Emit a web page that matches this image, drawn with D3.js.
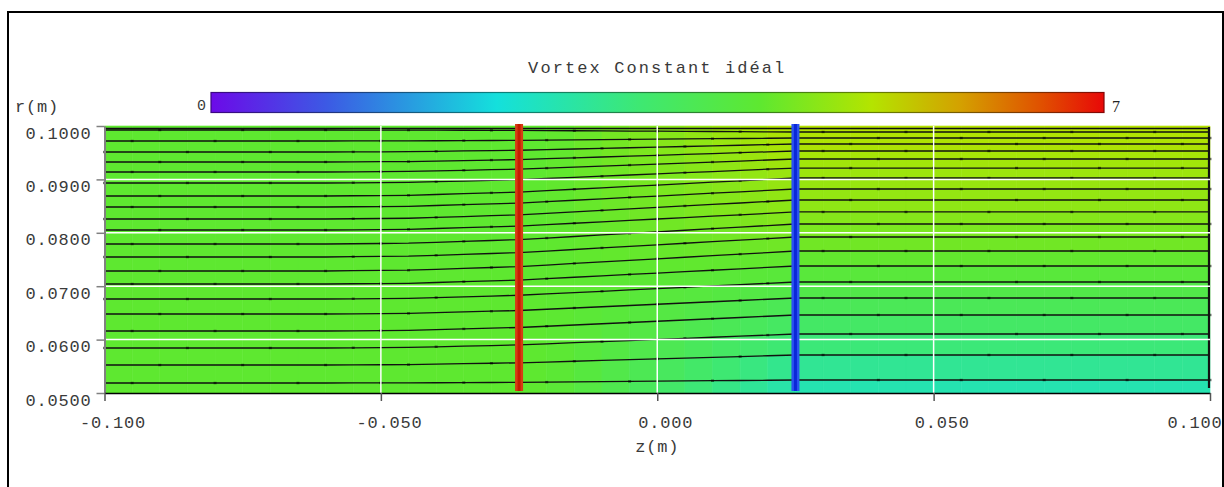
<!DOCTYPE html>
<html>
<head>
<meta charset="utf-8">
<script src="https://cdn.jsdelivr.net/npm/d3@7"></script>
<style>
  body { margin: 0; background: #fff; }
  svg { display: block; }
  .mono { font-family: "Liberation Mono", "Courier New", monospace; fill: #3a3a3a; }
</style>
</head>
<body>
<svg></svg>
<script>
// Axis ticks and labels
const zTicks = [-0.1, -0.05, 0, 0.05, 0.1];
const zTickLabels = ["-0.100", "-0.050", "0.000", "0.050", "0.100"];
const rTicks = [0.05, 0.06, 0.07, 0.08, 0.09, 0.1];
const rTickLabels = ["0.0500", "0.0600", "0.0700", "0.0800", "0.0900", "0.1000"];

// Streamline radii, hub to tip, upstream (z=-0.1) and downstream (z=0.1)
const rUpstream = [0.05187, 0.05524, 0.05843, 0.06161, 0.06479, 0.06760, 0.07041, 0.07285, 0.07547, 0.07790,
                   0.08052, 0.08258, 0.08483, 0.08689, 0.08933, 0.09139, 0.09326, 0.09513, 0.09719, 0.09925];
const rDownstream = [0.05243, 0.05712, 0.06105, 0.06461, 0.06779, 0.07079, 0.07378, 0.07659, 0.07921, 0.08165,
                     0.08390, 0.08614, 0.08820, 0.09026, 0.09213, 0.09382, 0.09532, 0.09663, 0.09775, 0.09888];

// How far the streamlines have moved from upstream to downstream position along z
const shiftZ = [-0.1, -0.06, -0.045, -0.025, 0, 0.025, 0.1];
const shiftFrac = [0, 0, 0.04, 0.22, 0.61, 1, 1];

// Field value: uniform upstream, per streamtube downstream (hub to tip, 21 tubes)
const valueUpstream = 4.3;
const valueDownstream = [2.7, 3.0, 3.3, 3.55, 3.75, 3.95, 4.15, 4.35, 4.5, 4.6, 4.7,
                         4.8, 4.85, 4.9, 4.95, 5.0, 5.05, 5.1, 5.12, 5.15, 5.2];
const valueZ = [-0.1, -0.02, 0.025, 0.1];
const valueFrac = [0, 0, 1, 1];

// Actuator discs (rotor, stator)
const discZ = [-0.025, 0.025];
const discColors = [["#d63c14", "#c41c00"], ["#2a52f0", "#0a28d8"]];

// Colour bar
const cbarMin = 0, cbarMax = 7;
const cbarStops = [0, 0.13, 0.32, 0.48, 0.615, 0.74, 0.84, 0.93, 1];
const cbarColors = ["#6c0ae8", "#3c5ae4", "#14e0dc", "#3ee872", "#5ee830", "#b4e400", "#d4a000", "#e05000", "#e80808"];

const title = "Vortex Constant idéal";

const width = 1224, height = 487;
const svg = d3.select("svg").attr("width", width).attr("height", height);

// outer frame
svg.append("rect")
    .attr("x", 8).attr("y", 12).attr("width", 1215).attr("height", 500)
    .attr("fill", "none").attr("stroke", "#000").attr("stroke-width", 2);

const xScale = d3.scaleLinear().domain([-0.1, 0.1]).range([104.5, 1210]);
const yScale = d3.scaleLinear().domain([0.05, 0.1]).range([393, 126]);
const shiftScale = d3.scaleLinear().domain(shiftZ).range(shiftFrac).clamp(true);
const valueScale = d3.scaleLinear().domain(valueZ).range(valueFrac).clamp(true);
const colorScale = d3.scaleLinear()
    .domain(cbarStops.map(s => cbarMin + s * (cbarMax - cbarMin)))
    .range(cbarColors)
    .clamp(true);

// radius of streamline k (0 = hub, 21 = tip, 1..20 = lines) at z
function lineR(k, z) {
    if (k === 0) return 0.05;
    if (k === rUpstream.length + 1) return 0.1;
    const f = shiftScale(z);
    return rUpstream[k - 1] + f * (rDownstream[k - 1] - rUpstream[k - 1]);
}

// mesh columns
const meshZ = d3.range(-0.1, 0.1 + 1e-9, 0.005);

const field = svg.append("g");
for (let j = 0; j < meshZ.length - 1; j++) {
    const z0 = meshZ[j], z1 = meshZ[j + 1];
    const vf = valueScale((z0 + z1) / 2);
    for (let i = 0; i <= rUpstream.length; i++) {
        const v = valueUpstream + vf * (valueDownstream[i] - valueUpstream);
        const pts = [
            [xScale(z0), yScale(lineR(i, z0))],
            [xScale(z1), yScale(lineR(i, z1))],
            [xScale(z1), yScale(lineR(i + 1, z1))],
            [xScale(z0), yScale(lineR(i + 1, z0))]
        ];
        field.append("polygon")
            .attr("points", pts.map(p => p.join(",")).join(" "))
            .attr("fill", colorScale(v))
            .attr("stroke", colorScale(v))
            .attr("stroke-width", 0.6);
    }
}

// streamlines
const lineGen = d3.line().x(d => xScale(d[0])).y(d => yScale(d[1]));
const streams = svg.append("g");
for (let k = 1; k <= rUpstream.length; k++) {
    const pts = meshZ.map(z => [z, lineR(k, z)]);
    streams.append("path")
        .attr("d", lineGen(pts))
        .attr("fill", "none")
        .attr("stroke", "#111")
        .attr("stroke-width", 1.3);
    streams.selectAll(null)
        .data(pts.filter((d, i) => i % 3 === (k % 3)))
        .join("rect")
        .attr("x", d => xScale(d[0]) - 1.5)
        .attr("y", d => yScale(d[1]) - 1.2)
        .attr("width", 3).attr("height", 2.4)
        .attr("fill", "#000").attr("opacity", 0.55);
}
// tip boundary line and outlet line
streams.append("line")
    .attr("x1", xScale(-0.1)).attr("x2", xScale(0.1))
    .attr("y1", yScale(0.1) + 2.5).attr("y2", yScale(0.1) + 2.5)
    .attr("stroke", "#111").attr("stroke-width", 1.6);
streams.append("line")
    .attr("x1", xScale(0.1) - 1).attr("x2", xScale(0.1) - 1)
    .attr("y1", yScale(0.1) + 1).attr("y2", 388)
    .attr("stroke", "#111").attr("stroke-width", 2.2);

// white grid
const grid = svg.append("g").attr("stroke", "#fff").attr("stroke-width", 1.5);
grid.selectAll(".gz").data(zTicks.slice(1, -1)).join("line")
    .attr("x1", d => xScale(d)).attr("x2", d => xScale(d))
    .attr("y1", yScale(0.1)).attr("y2", yScale(0.05));
grid.selectAll(".gr").data(rTicks.slice(1, -1)).join("line")
    .attr("x1", xScale(-0.1)).attr("x2", xScale(0.1))
    .attr("y1", d => yScale(d)).attr("y2", d => yScale(d));

// actuator discs
discZ.forEach((z, i) => {
    svg.append("rect")
        .attr("x", xScale(z) - 4).attr("y", 124)
        .attr("width", 8).attr("height", 267)
        .attr("fill", discColors[i][0]);
    svg.append("rect")
        .attr("x", xScale(z) - 1.5).attr("y", 124)
        .attr("width", 3).attr("height", 267)
        .attr("fill", discColors[i][1]);
});

// axes
const yAxis = svg.append("g")
    .attr("transform", `translate(${xScale(-0.1)},0)`)
    .call(d3.axisLeft(yScale).tickValues(rTicks).tickFormat((d, i) => rTickLabels[i]).tickSize(8).tickSizeOuter(0));
yAxis.select(".domain").attr("stroke", "#808080").attr("stroke-width", 2);
yAxis.selectAll(".tick line").attr("stroke", "#808080").attr("stroke-width", 1.5);
yAxis.selectAll(".tick text")
    .attr("class", "mono")
    .attr("x", -13).attr("dy", null).attr("y", 12)
    .style("font-size", "17px").style("letter-spacing", "0.8px");

const xAxis = svg.append("g")
    .attr("transform", `translate(0,${yScale(0.05)})`)
    .call(d3.axisBottom(xScale).tickValues(zTicks).tickFormat((d, i) => zTickLabels[i]).tickSize(8).tickSizeOuter(0));
xAxis.select(".domain").attr("stroke", "#000").attr("stroke-width", 1.5);
xAxis.selectAll(".tick line").attr("stroke", "#555").attr("stroke-width", 1.5);
xAxis.selectAll(".tick text")
    .attr("class", "mono")
    .attr("dy", null).attr("y", 35)
    .attr("x", (d, i) => i === zTicks.length - 1 ? 12 : 8)
    .attr("text-anchor", (d, i) => i === zTicks.length - 1 ? "end" : "middle")
    .style("font-size", "17px").style("letter-spacing", "0.8px");

svg.append("text").attr("class", "mono")
    .attr("x", 15).attr("y", 112)
    .style("font-size", "17px").style("letter-spacing", "0.8px")
    .text("r(m)");
svg.append("text").attr("class", "mono")
    .attr("x", xScale(0)).attr("y", 452).attr("text-anchor", "middle")
    .style("font-size", "17px").style("letter-spacing", "0.8px")
    .text("z(m)");

// title
svg.append("text").attr("class", "mono")
    .attr("x", xScale(0)).attr("y", 73).attr("text-anchor", "middle")
    .style("font-size", "17px").style("letter-spacing", "2.1px")
    .text(title);

// colour bar
const defs = svg.append("defs");
const grad = defs.append("linearGradient").attr("id", "cbar");
grad.selectAll("stop").data(cbarStops).join("stop")
    .attr("offset", d => d)
    .attr("stop-color", (d, i) => cbarColors[i]);
const gradDark = defs.append("linearGradient").attr("id", "cbarDark");
gradDark.selectAll("stop").data(cbarStops).join("stop")
    .attr("offset", d => d)
    .attr("stop-color", (d, i) => d3.color(cbarColors[i]).darker(1.6));

const cbX = d3.scaleLinear().domain([cbarMin, cbarMax]).range([211, 1104]);
svg.append("rect")
    .attr("x", cbX(cbarMin)).attr("y", 92.5)
    .attr("width", cbX(cbarMax) - cbX(cbarMin)).attr("height", 20)
    .attr("fill", "url(#cbar)")
    .attr("stroke", "url(#cbarDark)").attr("stroke-width", 1.2);
svg.append("text").attr("class", "mono")
    .attr("x", cbX(cbarMin) - 5).attr("y", 110).attr("text-anchor", "end")
    .style("font-size", "15px")
    .text(cbarMin);
svg.append("text")
    .attr("x", cbX(cbarMax) + 8).attr("y", 112)
    .style("font-family", "Liberation Serif, serif").style("font-size", "16px").style("fill", "#222")
    .text(cbarMax);
</script>
</body>
</html>
